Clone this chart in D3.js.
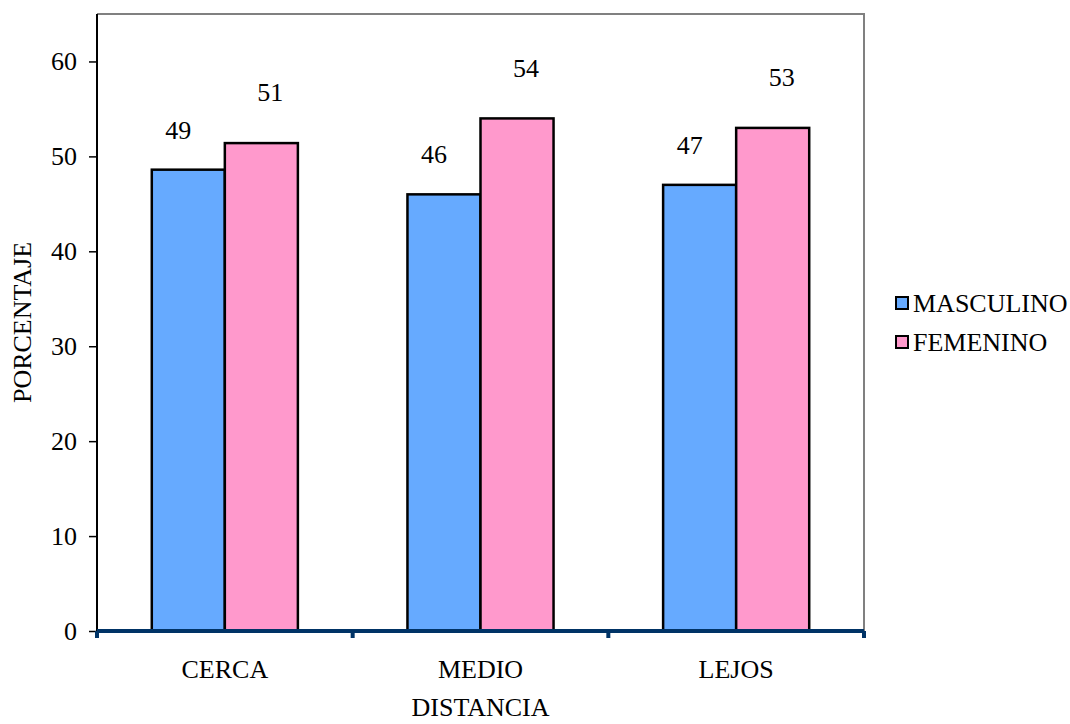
<!DOCTYPE html>
<html>
<head>
<meta charset="utf-8">
<script src="https://cdn.jsdelivr.net/npm/d3@7"></script>
<style>
  html, body { margin: 0; padding: 0; background: #fff; }
  svg { display: block; }
  svg text { font-family: "Liberation Serif", serif; font-size: 26px; fill: #000; }
</style>
</head>
<body>
<svg id="chart" width="1070" height="724"></svg>
<script>
// Distance categories and the share of each sex (percent)
const categories = ["CERCA", "MEDIO", "LEJOS"];
const seriesNames = ["MASCULINO", "FEMENINO"];
const masculino = [48.6, 46.0, 47.0];
const femenino = [51.4, 54.0, 53.0];
const yTicks = [0, 10, 20, 30, 40, 50, 60];

const colors = { MASCULINO: "#66aaff", FEMENINO: "#ff99cc" };
const seriesValues = { MASCULINO: masculino, FEMENINO: femenino };

const svg = d3.select("#chart");
const plot = { left: 97, right: 864, top: 14, bottom: 631 };

const x = d3.scaleBand().domain(categories).range([plot.left, plot.right]).padding(0);
const xs = d3.scaleBand().domain(seriesNames).range([0, x.bandwidth()])
  .paddingInner(0).paddingOuter(0.75);
const y = d3.scaleLinear().domain([0, 65]).range([plot.bottom, plot.top]);

// Plot frame: grey top and right edges
svg.append("path")
  .attr("d", `M${plot.left},${plot.top}H${plot.right}V${plot.bottom}`)
  .attr("fill", "none").attr("stroke", "#808080").attr("stroke-width", 2);

// Bars
const rows = categories.map((c, i) => seriesNames.map(s => ({ cat: c, s, v: seriesValues[s][i] })));
const g = svg.append("g");
g.selectAll("g.cat").data(rows).join("g")
  .attr("transform", d => `translate(${x(d[0].cat)},0)`)
  .selectAll("rect").data(d => d).join("rect")
  .attr("x", d => xs(d.s))
  .attr("y", d => y(d.v))
  .attr("width", xs.bandwidth())
  .attr("height", d => y(0) - y(d.v))
  .attr("fill", d => colors[d.s])
  .attr("stroke", "#000").attr("stroke-width", 2.5);

// Value labels above bars
const labelShift = { MASCULINO: { dx: -10, dy: -40 }, FEMENINO: { dx: 9, dy: -51 } };
g.selectAll("text.val").data(rows.flat()).join("text")
  .attr("class", "val")
  .attr("x", d => x(d.cat) + xs(d.s) + xs.bandwidth() / 2 + labelShift[d.s].dx)
  .attr("y", d => y(d.v) + labelShift[d.s].dy)
  .attr("dy", "0.35em")
  .attr("text-anchor", "middle")
  .text(d => d3.format(".0f")(d.v));

// Y axis
const yAxis = svg.append("g")
  .attr("transform", `translate(${plot.left},0)`)
  .call(d3.axisLeft(y).tickValues(yTicks).tickSize(8).tickPadding(12).tickSizeOuter(0));
yAxis.select(".domain").attr("stroke", "#000").attr("stroke-width", 2)
  .attr("d", `M0,${plot.bottom}V${plot.top}`);
yAxis.selectAll(".tick line").attr("stroke", "#000").attr("stroke-width", 1.5);

// X axis: navy baseline with ticks between categories
const xEdges = categories.map(c => x(c)).concat([plot.right]);
svg.append("line")
  .attr("x1", plot.left).attr("x2", plot.right)
  .attr("y1", plot.bottom).attr("y2", plot.bottom)
  .attr("stroke", "#003366").attr("stroke-width", 4);
svg.selectAll("line.xt").data(xEdges).join("line")
  .attr("class", "xt")
  .attr("x1", d => d).attr("x2", d => d)
  .attr("y1", plot.bottom).attr("y2", plot.bottom + 7)
  .attr("stroke", "#003366").attr("stroke-width", 4);
svg.selectAll("text.cat").data(categories).join("text")
  .attr("class", "cat")
  .attr("x", d => x(d) + x.bandwidth() / 2)
  .attr("y", 678)
  .attr("text-anchor", "middle")
  .text(d => d);

// Axis titles
svg.append("text")
  .attr("x", (plot.left + plot.right) / 2).attr("y", 716)
  .attr("text-anchor", "middle")
  .text("DISTANCIA");
svg.append("text")
  .attr("transform", `translate(22,${(plot.top + plot.bottom) / 2}) rotate(-90)`)
  .attr("dy", "0.35em")
  .attr("text-anchor", "middle")
  .text("PORCENTAJE");

// Legend
const legend = svg.append("g").attr("transform", "translate(896,297)");
const item = legend.selectAll("g").data(seriesNames).join("g")
  .attr("transform", (d, i) => `translate(0,${i * 39})`);
item.append("rect")
  .attr("width", 12).attr("height", 12)
  .attr("fill", d => colors[d]).attr("stroke", "#000").attr("stroke-width", 2);
item.append("text")
  .attr("x", 17).attr("y", 6).attr("dy", "0.35em")
  .text(d => d);
</script>
</body>
</html>
